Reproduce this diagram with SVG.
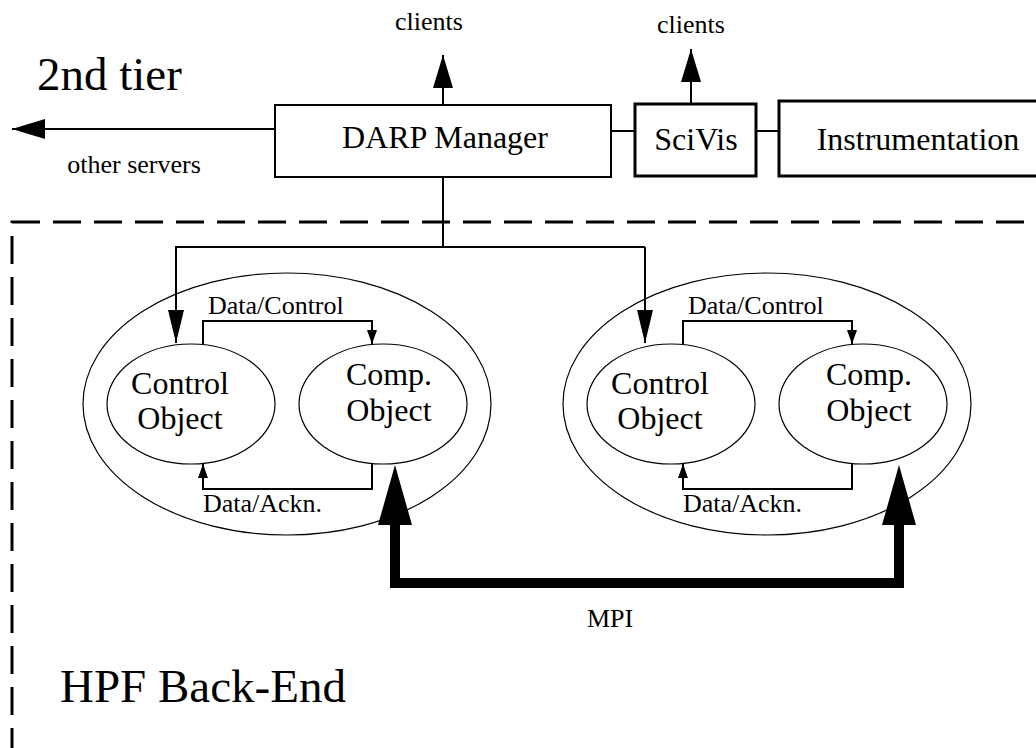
<svg xmlns="http://www.w3.org/2000/svg" width="1036" height="748" viewBox="0 0 1036 748">
<style>
text{font-family:"Liberation Serif","Times New Roman",serif;fill:#000}
.s{font-size:26px}
.m{font-size:32px}
.l{font-size:47px}
.box{fill:#fff;stroke:#000;stroke-width:2}
.tbox{fill:#fff;stroke:#000;stroke-width:3}
.ell{fill:none;stroke:#000;stroke-width:1.2}
.ln{fill:none;stroke:#000;stroke-width:2}
</style>
<defs>
<marker id="big" viewBox="0 0 33 20" refX="33" refY="10" markerWidth="33" markerHeight="20" markerUnits="userSpaceOnUse" orient="auto"><path d="M0,0 L33,10 L0,20 z" fill="#000"/></marker>
<marker id="mid" viewBox="0 0 33 16" refX="33" refY="8" markerWidth="33" markerHeight="16" markerUnits="userSpaceOnUse" orient="auto"><path d="M0,0 L33,8 L0,16 z" fill="#000"/></marker>
<marker id="sm" viewBox="0 0 14 10" refX="14" refY="5" markerWidth="14" markerHeight="10" markerUnits="userSpaceOnUse" orient="auto"><path d="M0,0 L14,5 L0,10 z" fill="#000"/></marker>
</defs>
<rect x="12" y="222" width="1060" height="560" fill="none" stroke="#000" stroke-width="3" stroke-dasharray="28,13"/>
<text class="l" x="37" y="90">2nd tier</text>
<text class="l" x="60" y="702">HPF Back-End</text>
<g id="connectors">
<path class="ln" d="M275,129 H12" marker-end="url(#big)"/>
<path class="ln" d="M443,105 V55" marker-end="url(#big)"/>
<path class="ln" d="M691,104 V49" marker-end="url(#big)"/>
<path class="ln" d="M611,131 H635"/>
<path class="ln" d="M756,131 H779"/>
<path class="ln" d="M443,177 V247 H645"/>
<path class="ln" d="M443,247 H176 V343" marker-end="url(#mid)"/>
<path class="ln" d="M645,247 V343" marker-end="url(#mid)"/>
<path class="ln" d="M203,344 V321 H372 V344" marker-end="url(#sm)"/>
<path class="ln" d="M372,463 V489 H203 V464" marker-end="url(#sm)"/>
<path class="ln" d="M683,344 V321 H852 V344" marker-end="url(#sm)"/>
<path class="ln" d="M852,463 V489 H683 V464" marker-end="url(#sm)"/>
<path d="M395,525 V583 H899 V525" fill="none" stroke="#000" stroke-width="10"/>
<path d="M378,525 L395,465 L412,525 z M882,525 L899,465 L916,525 z" fill="#000"/>
<text class="s" x="429" y="30" text-anchor="middle">clients</text>
<text class="s" x="691" y="33" text-anchor="middle">clients</text>
<text class="s" x="134" y="173" text-anchor="middle">other servers</text>
<text class="s" x="208" y="314">Data/Control</text>
<text class="s" x="203" y="512">Data/Ackn.</text>
<text class="s" x="688" y="314">Data/Control</text>
<text class="s" x="683" y="512">Data/Ackn.</text>
<text class="s" x="610" y="627" text-anchor="middle">MPI</text>
</g>
<g id="darp"><rect class="box" x="275" y="105" width="336" height="72"/><text class="m" x="445" y="148" text-anchor="middle">DARP Manager</text></g>
<g id="scivis"><rect class="tbox" x="635" y="104" width="121" height="72"/><text class="m" x="696" y="150" text-anchor="middle">SciVis</text></g>
<g id="instr"><rect class="tbox" x="779" y="101" width="300" height="75"/><text class="m" x="918" y="150" text-anchor="middle">Instrumentation</text></g>
<g id="cluster1">
<ellipse class="ell" cx="287" cy="404" rx="204" ry="131"/>
<g id="ctrl1"><ellipse class="ell" cx="191" cy="404" rx="84" ry="60"/><text class="m" x="180" y="394" text-anchor="middle">Control</text><text class="m" x="180" y="429" text-anchor="middle">Object</text></g>
<g id="comp1"><ellipse class="ell" cx="383" cy="404" rx="84" ry="60"/><text class="m" x="389" y="385" text-anchor="middle">Comp.</text><text class="m" x="389" y="421" text-anchor="middle">Object</text></g>
</g>
<g id="cluster2">
<ellipse class="ell" cx="767" cy="404" rx="204" ry="131"/>
<g id="ctrl2"><ellipse class="ell" cx="671" cy="404" rx="84" ry="60"/><text class="m" x="660" y="394" text-anchor="middle">Control</text><text class="m" x="660" y="429" text-anchor="middle">Object</text></g>
<g id="comp2"><ellipse class="ell" cx="863" cy="404" rx="84" ry="60"/><text class="m" x="869" y="385" text-anchor="middle">Comp.</text><text class="m" x="869" y="421" text-anchor="middle">Object</text></g>
</g>
</svg>
